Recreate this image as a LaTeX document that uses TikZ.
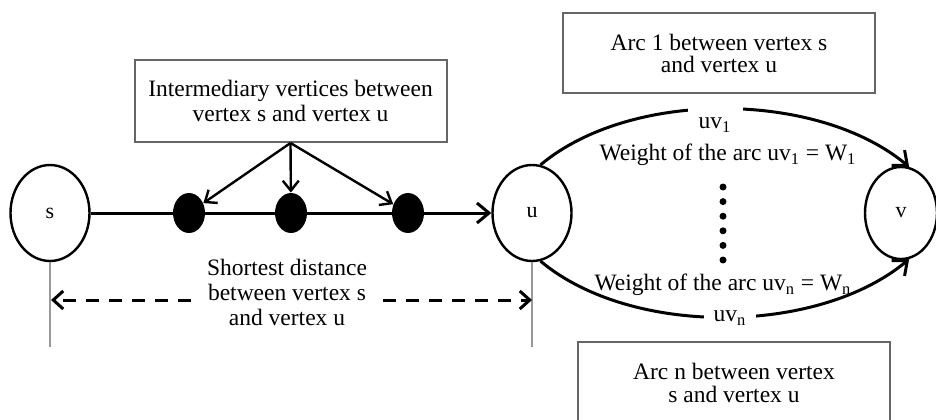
\documentclass[tikz,border=0pt]{standalone}
\usepackage{fontspec}
\setmainfont{Liberation Serif}
\usetikzlibrary{shapes.geometric,arrows.meta}
\begin{document}
\begin{tikzpicture}[x=0.5pt, y=0.5pt,
  vertex/.style={ellipse, draw=black, line width=1.2pt, fill=white, inner sep=0pt, minimum width=39.5pt, minimum height=48pt, font=\fontsize{11}{12}\selectfont},
  mid/.style={ellipse, fill=black, inner sep=0pt, minimum width=16pt, minimum height=20pt},
  note/.style={draw=black!60, line width=1pt, fill=white, minimum width=156pt, minimum height=41pt, align=center, font=\fontsize{11.75}{12.5}\selectfont},
  txt/.style={align=center, font=\fontsize{11.75}{12.5}\selectfont},
  arclabel/.style={fill=white, inner xsep=0pt, font=\fontsize{11.75}{12.5}\selectfont},
  link/.style={line width=1.5pt, -{Straight Barb[length=6pt, width=10pt]}},
  pointer/.style={line width=1.2pt, -{Straight Barb[length=5pt, width=8pt]}},
  guide/.style={draw=black!40, line width=1pt},
  dimline/.style={line width=1.5pt, dash pattern=on 6.5pt off 5pt, -{Straight Barb[length=5pt, width=9pt]}}]
\useasboundingbox (0,0) rectangle (936,419);
\clip (0,0) rectangle (936,419);
\node[vertex] (s) at (50,206) {s};
\node[vertex] (u) at (532,206) {u};
\node[vertex, minimum width=36pt, minimum height=46pt] (v) at (901,206) {v};
\node[mid] (d1) at (189,206) {};
\node[mid] (d2) at (291,206) {};
\node[mid] (d3) at (408,206) {};
\node[note] (ibox) at (290.5,318) {Intermediary vertices between\\vertex s and vertex u};
\node[note, minimum height=40pt, font=\fontsize{11.75}{11}\selectfont] (arc1) at (719,366) {Arc 1 between vertex s\\and vertex u};
\node[note, font=\fontsize{11.75}{11.5}\selectfont] (arcn) at (734,36) {Arc n between vertex\\s and vertex u};
\node[txt, inner xsep=8pt] (dist) at (287,127) {Shortest distance\\between vertex s\\and vertex u};
\coordinate (sfoot) at (50,72);
\coordinate (ufoot) at (532,72);
\coordinate (dl) at (51,119);
\coordinate (dr) at (532,119);
\draw[link] (s) -- (u);
\draw[pointer] (ibox.south) -- (d1);
\draw[pointer] (ibox.south) -- (d2);
\draw[pointer] (ibox.south) -- (d3);
\draw[guide] (s) -- (sfoot);
\draw[guide] (u) -- (ufoot);
\draw[dimline] (dist.west |- dl) -- (dl);
\draw[dimline] (dist.east |- dr) -- (dr);
\draw[link] (u.80) to[out=40, in=140, looseness=0.82] (v.80);
\draw[link] (u.-80) to[out=-40, in=-140, looseness=0.82] (v.-80);
\node[arclabel, minimum width=27.5pt, minimum height=18pt] (uv1) at (715,294) {uv\textsubscript{1}};
\node[arclabel, minimum width=26pt] (uvn) at (730,101) {uv\textsubscript{n}};
\node[txt] (w1) at (728,264) {Weight of the arc uv\textsubscript{1} = W\textsubscript{1}};
\node[txt] (wn) at (723,134) {Weight of the arc uv\textsubscript{n} = W\textsubscript{n}};
\foreach \k in {0,...,5}
  \fill (723,{232-14.6*\k}) circle (1.75pt);
\end{tikzpicture}
\end{document}
